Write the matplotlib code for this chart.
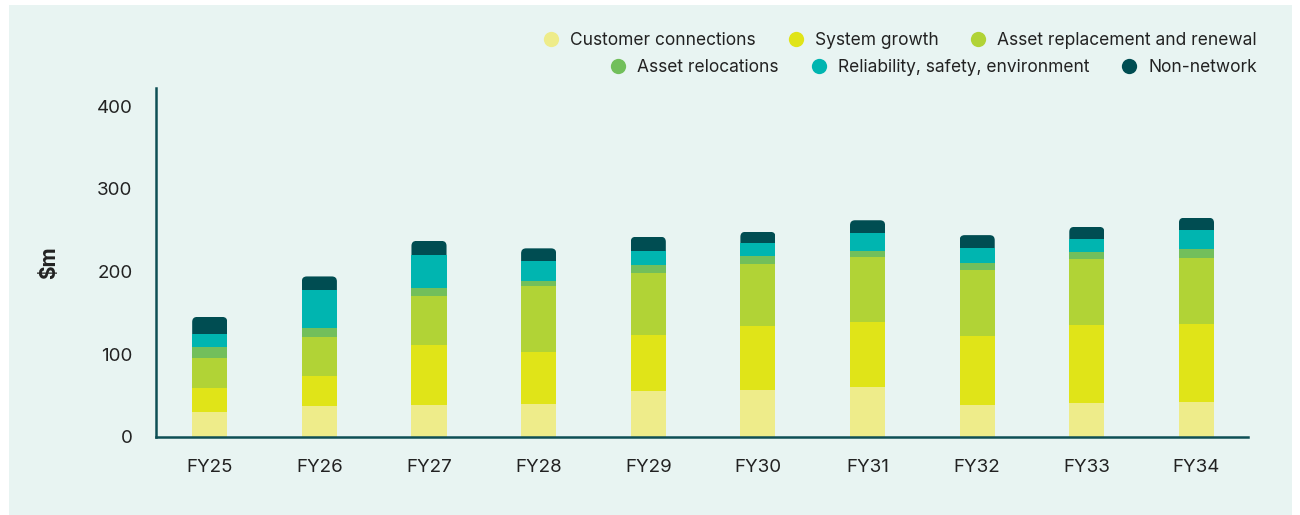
import matplotlib.pyplot as plt
from matplotlib.lines import Line2D
from matplotlib.patches import FancyBboxPatch, Rectangle

# capex by category, $m
years = ['FY25', 'FY26', 'FY27', 'FY28', 'FY29', 'FY30', 'FY31', 'FY32', 'FY33', 'FY34']
customer_connections = [30, 37, 38, 40, 55, 57, 60, 38, 41, 42]
system_growth = [29, 36, 73, 63, 68, 77, 79, 84, 94, 94]
asset_replacement = [36, 48, 59, 79, 75, 75, 79, 80, 80, 80]
asset_relocations = [13, 10, 10, 7, 10, 10, 7, 8, 8, 11]
reliability = [16, 46, 40, 24, 17, 16, 22, 19, 16, 23]
non_network = [21, 17, 17, 15, 17, 13, 15, 15, 15, 15]

series = [
    ('Customer connections', customer_connections, '#EEEC8A'),
    ('System growth', system_growth, '#E0E418'),
    ('Asset replacement and renewal', asset_replacement, '#B1D336'),
    ('Asset relocations', asset_relocations, '#72BF5B'),
    ('Reliability, safety, environment', reliability, '#00B5B0'),
    ('Non-network', non_network, '#004D52'),
]

bg = '#E8F4F2'
axis_col = '#0E4F55'
txt = '#222222'
plt.rcParams['font.family'] = ['Inter', 'DejaVu Sans']

fig = plt.figure(figsize=(13, 5.15), dpi=100)
fig.patch.set_facecolor('white')
fig.patches.append(Rectangle((9 / 1300, 0), 1283 / 1300, 510 / 515, transform=fig.transFigure,
                             facecolor=bg, edgecolor='none', zorder=-10))

ax = fig.add_axes([0.12, 0.152, 0.84, 0.677])
ax.set_facecolor(bg)
ax.patch.set_alpha(0)

x = range(len(years))
bottom = [0] * len(years)
bars = None
for name, vals, col in series:
    bars = ax.bar(x, vals, width=0.32, bottom=bottom, color=col, linewidth=0, label=name)
    bottom = [b + v for b, v in zip(bottom, vals)]

ax.set_xlim(-0.49, 9.47)
ax.set_ylim(0, 422)
ax.set_yticks([0, 100, 200, 300, 400])
ax.set_xticks(list(x))
ax.set_xticklabels(years)
ax.tick_params(length=0, labelsize=13.5, colors=txt)
ax.tick_params(axis='x', pad=16)
ax.tick_params(axis='y', pad=17)
for s in ['top', 'right']:
    ax.spines[s].set_visible(False)
for s in ['left', 'bottom']:
    ax.spines[s].set_color(axis_col)
    ax.spines[s].set_linewidth(1.8)
ax.set_ylabel('$m', fontsize=15, fontweight='bold', color=txt, labelpad=27)

# round the top corners of the last segment
p0 = ax.transData.transform((0, 0))
p1 = ax.transData.transform((1, 1))
xpx = p1[0] - p0[0]
ypx = p1[1] - p0[1]
aspect = xpx / ypx
r = 5 / xpx
for rect in bars:
    bx, by = rect.get_x(), rect.get_y()
    bw, bh = rect.get_width(), rect.get_height()
    clip = FancyBboxPatch((bx, by - 20), bw, bh + 20, boxstyle=f'round,pad=0,rounding_size={r}',
                          mutation_aspect=aspect, transform=ax.transData)
    rect.set_clip_path(clip)

# legend in two right-aligned rows
def handle(col):
    return Line2D([], [], marker='o', linestyle='none', markersize=11,
                  markerfacecolor=col, markeredgecolor='none')

rows = [series[:3], series[3:]]
tops = [32 / 515, 59 / 515]
for row, top in zip(rows, tops):
    leg = fig.legend([handle(c) for _, _, c in row], [n for n, _, _ in row],
                     loc='upper right', bbox_to_anchor=(1257 / 1300, 1 - top),
                     ncol=3, frameon=False, fontsize=12.5, handlelength=1.0,
                     handletextpad=0.6, columnspacing=1.8, borderpad=0, borderaxespad=0)
    for t in leg.get_texts():
        t.set_color(txt)

fig.savefig('out.png', dpi=100, facecolor=fig.get_facecolor())
